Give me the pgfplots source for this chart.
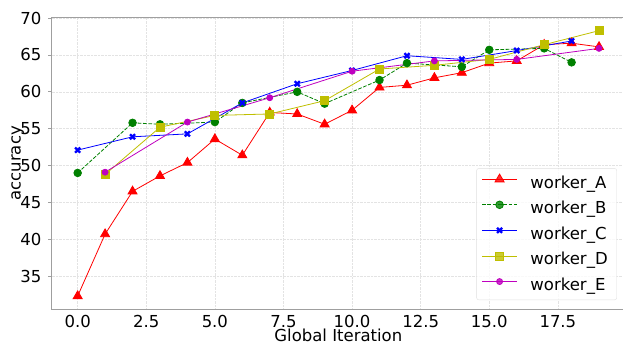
\documentclass[border=0pt]{standalone}
\usepackage{fontspec}
\setmainfont{DejaVu Sans}
\usepackage{pgfplots}
\pgfplotsset{compat=1.18}
\definecolor{mplg}{rgb}{0,0.5,0}
\definecolor{mply}{rgb}{0.75,0.75,0}
\definecolor{mplm}{rgb}{0.75,0,0.75}
\newcommand{\fs}{\fontsize{16.5}{19}\selectfont}
\begin{document}
\begin{tikzpicture}
\begin{axis}[
  at={(51.6pt,36.7pt)}, anchor=south west,
  scale only axis, width=573.5pt, height=291.9pt,
  xmin=-0.95, xmax=19.95, ymin=30.5, ymax=70.1,
  xtick={0,2.5,5,7.5,10,12.5,15,17.5},
  ytick={35,40,45,50,55,60,65,70},
  grid=major,
  major grid style={densely dotted, gray!22, line width=0.6pt},
  axis line style={gray!75, line width=0.8pt},
  tick align=outside, major tick length=3.5pt,
  xtick pos=lower, ytick pos=left,
  xtick style={draw=none},
  ytick style={gray!75, line width=0.8pt},
  tick label style={font=\fs, /pgf/number format/assume math mode=true},
  xticklabel style={anchor=base, inner sep=0pt, yshift=-14.3pt,
    /pgf/number format/.cd, fixed, fixed zerofill, precision=1},
  yticklabel style={anchor=east, inner sep=0pt, xshift=-6.6pt},
  xlabel={Global Iteration}, ylabel={accuracy},
  every axis x label/.style={at={(axis description cs:0.5,-0.1115)}, anchor=base, font=\fs, inner sep=0pt, text depth=0pt},
  every axis y label/.style={at={(axis description cs:-0.0539,0.5)}, rotate=90, anchor=base, font=\fs},
  legend style={font=\fs, draw=gray!25, rounded corners=2pt, fill=white,
    fill opacity=0.8, text opacity=1,
    at={(1,0)}, anchor=south east, xshift=-8.2pt, yshift=9.3pt,
    inner xsep=5pt, inner ysep=5.5pt, row sep=9pt,
    /tikz/every odd column/.append style={column sep=9pt},
    nodes={text height=12.5pt, text depth=4pt, inner ysep=0pt, inner xsep=4pt}},
  legend cell align=left,
  legend image code/.code={\draw[mark repeat=2,mark phase=2] plot coordinates {(0pt,4.5pt) (17.5pt,4.5pt) (35pt,4.5pt)};},
]
\addplot[red, line width=0.8pt, mark=triangle*, mark size=5.2pt, mark options={solid}] coordinates {
(0,32.3)(1,40.7)(2,46.5)(3,48.6)(4,50.4)(5,53.6)(6,51.4)(7,57.2)(8,57.0)(9,55.6)
(10,57.5)(11,60.6)(12,60.9)(13,61.9)(14,62.6)(15,63.9)(16,64.2)(17,66.4)(18,66.6)(19,66.1)};
\addlegendentry{worker\_A}
\addplot[mplg, line width=0.8pt, dash pattern=on 3.7pt off 1.6pt, mark=*, mark size=3.8pt, mark options={solid}] coordinates {
(0,49.0)(2,55.8)(3,55.6)(5,55.9)(6,58.5)(8,60.0)(9,58.4)(11,61.6)(12,63.9)(14,63.4)(15,65.7)(17,65.9)(18,64.0)};
\addlegendentry{worker\_B}
\addplot[blue, line width=0.8pt, mark=x, mark size=3.6pt, mark options={solid, line width=2.3pt}] coordinates {
(0,52.1)(2,53.9)(4,54.3)(6,58.5)(8,61.1)(10,62.9)(12,64.9)(14,64.4)(16,65.6)(18,66.9)};
\addlegendentry{worker\_C}
\addplot[mply, line width=0.8pt, mark=square*, mark size=4pt, mark options={solid}] coordinates {
(1,48.8)(3,55.2)(5,56.8)(7,57.0)(9,58.8)(11,63.1)(13,63.6)(15,64.4)(17,66.4)(19,68.3)};
\addlegendentry{worker\_D}
\addplot[mplm, line width=0.8pt, mark=*, mark size=3pt, mark options={solid}] coordinates {
(1,49.1)(4,55.9)(7,59.2)(10,62.8)(13,64.2)(16,64.4)(19,65.9)};
\addlegendentry{worker\_E}
\end{axis}
\pgfresetboundingbox
\path (0,0) rectangle (623pt,346pt);
\end{tikzpicture}
\end{document}
